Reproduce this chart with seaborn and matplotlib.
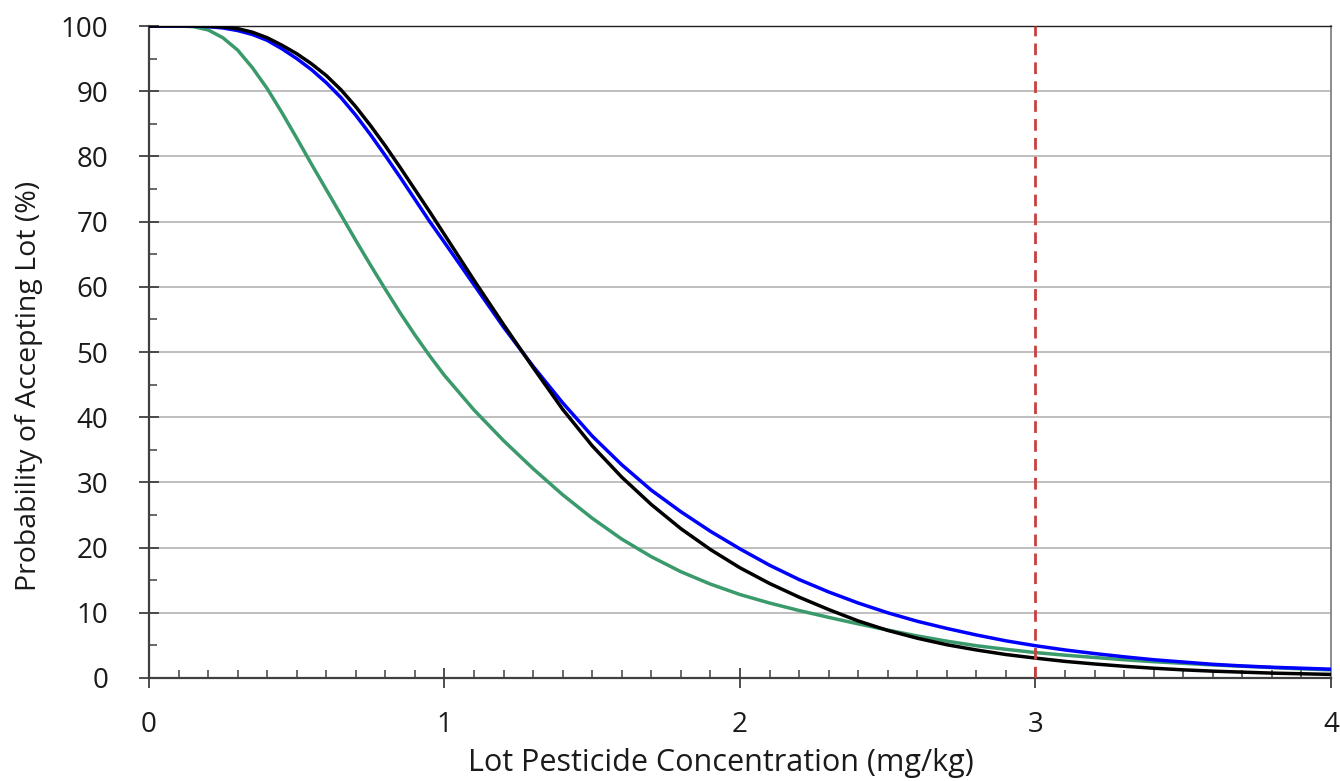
import numpy as np
import pandas as pd
import matplotlib
matplotlib.use("Agg")
import matplotlib.pyplot as plt
from matplotlib.ticker import MultipleLocator
import seaborn as sns

# ---- data ----
concentration = [0.00, 0.05, 0.10, 0.15, 0.20, 0.25, 0.30, 0.35, 0.40, 0.45,
                 0.50, 0.55, 0.60, 0.65, 0.70, 0.75, 0.80, 0.85, 0.90, 0.95,
                 1.0, 1.1, 1.2, 1.3, 1.4, 1.5, 1.6, 1.7, 1.8, 1.9,
                 2.0, 2.1, 2.2, 2.3, 2.4, 2.5, 2.6, 2.7, 2.8, 2.9,
                 3.0, 3.1, 3.2, 3.3, 3.4, 3.5, 3.6, 3.7, 3.8, 3.9, 4.0]

green_curve = [100, 100, 100, 99.9, 99.4, 98.2, 96.3, 93.6, 90.4, 86.7,
               82.8, 78.8, 74.9, 71.0, 67.1, 63.3, 59.6, 56.0, 52.6, 49.4,
               46.4, 41.1, 36.4, 32.1, 28.1, 24.5, 21.3, 18.6, 16.3, 14.4,
               12.8, 11.5, 10.35, 9.3, 8.3, 7.35, 6.45, 5.65, 4.95, 4.4,
               3.9, 3.5, 3.15, 2.8, 2.5, 2.25, 2.0, 1.8, 1.6, 1.4, 1.25]

blue_curve = [100, 100, 100, 100, 99.9, 99.7, 99.3, 98.7, 97.8, 96.5,
              95.0, 93.3, 91.3, 89.0, 86.3, 83.3, 80.1, 76.8, 73.4, 70.0,
              66.8, 60.3, 53.8, 47.8, 42.2, 37.1, 32.7, 28.8, 25.5, 22.5,
              19.8, 17.3, 15.1, 13.2, 11.5, 10.0, 8.7, 7.6, 6.6, 5.7,
              4.95, 4.3, 3.75, 3.25, 2.8, 2.45, 2.1, 1.85, 1.65, 1.5, 1.35]

black_curve = [100, 100, 100, 100, 99.95, 99.85, 99.6, 99.05, 98.2, 97.05,
               95.75, 94.2, 92.4, 90.2, 87.6, 84.7, 81.6, 78.3, 74.9, 71.5,
               68.0, 61.0, 54.2, 47.6, 41.2, 35.6, 30.8, 26.6, 22.9, 19.7,
               16.9, 14.5, 12.4, 10.5, 8.75, 7.3, 6.1, 5.1, 4.3, 3.6,
               3.05, 2.55, 2.15, 1.8, 1.5, 1.25, 1.05, 0.9, 0.75, 0.65, 0.55]

limit_concentration = 3.0

x_ticks = [0, 1, 2, 3, 4]
y_ticks = [0, 10, 20, 30, 40, 50, 60, 70, 80, 90, 100]

x_label = "Lot Pesticide Concentration (mg/kg)"
y_label = "Probability of Accepting Lot (%)"

# ---- styling ----
sns.set_style("white")
plt.rcParams["font.family"] = ["Open Sans", "DejaVu Sans"]

df = pd.DataFrame({
    "conc": concentration * 3,
    "prob": green_curve + blue_curve + black_curve,
    "series": ["green"] * len(concentration) + ["blue"] * len(concentration)
              + ["black"] * len(concentration),
})
palette = {"green": "#3A9A6C", "blue": "#0000FF", "black": "#000000"}

fig = plt.figure(figsize=(13.4, 7.81), dpi=100)
ax = fig.add_axes([149 / 1340, 1 - 678 / 781, (1331 - 149) / 1340, (678 - 26) / 781])

for s in ["green", "blue", "black"]:
    sns.lineplot(data=df[df["series"] == s], x="conc", y="prob", color=palette[s],
                 linewidth=2.5, ax=ax, legend=False, zorder=3, estimator=None,
                 sort=False)

ax.axvline(limit_concentration, ymin=0, ymax=1, color="#C8403F", linewidth=2.0,
           linestyle=(0, (4.2, 2.6)), zorder=4)

ax.set_xlim(0, 4)
ax.set_ylim(0, 100)
ax.set_xticks(x_ticks)
ax.set_yticks(y_ticks)
ax.set_xticklabels([str(t) for t in x_ticks])
ax.set_yticklabels([str(t) for t in y_ticks])
ax.xaxis.set_minor_locator(MultipleLocator(0.1))
ax.yaxis.set_minor_locator(MultipleLocator(5))

ax.yaxis.grid(True, which="major", color="#BFBFBF", linewidth=1.4, zorder=0)
ax.xaxis.grid(False)

ax.tick_params(axis="both", which="both", bottom=True, left=True,
               top=False, right=False)
ax.tick_params(axis="both", which="major", direction="inout", length=15,
               width=1.3, color="#404040", labelsize=20, labelcolor="#1a1a1a")
ax.tick_params(axis="y", which="major", pad=22)
ax.tick_params(axis="x", which="major", pad=16)
ax.tick_params(axis="both", which="minor", direction="in", length=5.5,
               width=1.1, color="#404040")

for side in ["left", "bottom"]:
    ax.spines[side].set_color("#404040")
    ax.spines[side].set_linewidth(1.6)
ax.spines["top"].set_color("#202020")
ax.spines["top"].set_linewidth(1.0)
ax.spines["right"].set_color("#8c8c8c")
ax.spines["right"].set_linewidth(1.4)

ax.set_xlabel(x_label, fontsize=22, color="#1a1a1a")
ax.set_ylabel(y_label, fontsize=20.5, color="#1a1a1a")
ax.xaxis.set_label_coords(0.484, -0.108)
ax.yaxis.set_label_coords(-0.0897, 0.448)

fig.savefig("out.png", dpi=100)
